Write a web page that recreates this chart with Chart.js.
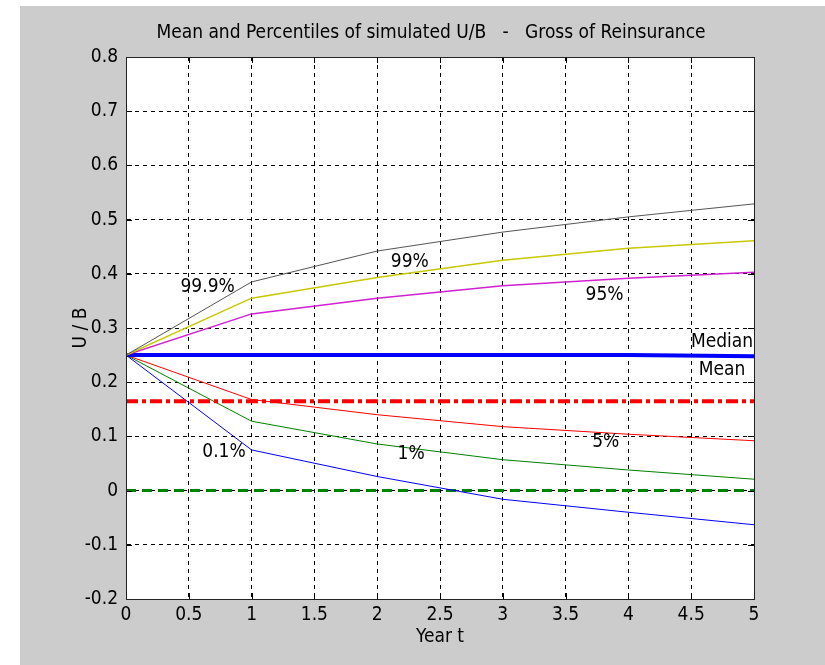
<!DOCTYPE html>
<html>
<head>
<meta charset="utf-8">
<script src="https://cdn.jsdelivr.net/npm/chart.js@4/dist/chart.umd.min.js"></script>
<style>
  body { margin: 0; background: #ffffff; }
  #wrap { width: 825px; height: 665px; }
</style>
</head>
<body>
<div id="wrap"><canvas id="ubChart" width="825" height="665"></canvas></div>
<script>
// Años simulados
const years = [0, 1, 2, 3, 4, 5];

// Percentiles y medias de U/B
const p999 = [0.25, 0.385, 0.442, 0.477, 0.505, 0.529];
const p99 = [0.25, 0.355, 0.393, 0.425, 0.447, 0.461];
const p95 = [0.25, 0.326, 0.355, 0.378, 0.392, 0.403];
const median = [0.25, 0.25, 0.25, 0.25, 0.25, 0.248];
const mean = [0.165, 0.165, 0.165, 0.165, 0.165, 0.165];
const p5 = [0.25, 0.168, 0.140, 0.118, 0.104, 0.092];
const p1 = [0.25, 0.128, 0.086, 0.057, 0.038, 0.021];
const p01 = [0.25, 0.075, 0.026, -0.016, -0.040, -0.063];
const zeroLine = [0, 0, 0, 0, 0, 0];

// Etiquetas sobre las curvas (texto, año, valor)
const curveLabels = [
    { text: "99.9%", x: 0.65, y: 0.376 },
    { text: "99%", x: 2.26, y: 0.422 },
    { text: "95%", x: 3.81, y: 0.361 },
    { text: "Median", x: 4.745, y: 0.274 },
    { text: "Mean", x: 4.745, y: 0.222 },
    { text: "5%", x: 3.82, y: 0.090 },
    { text: "1%", x: 2.27, y: 0.068 },
    { text: "0.1%", x: 0.78, y: 0.071 },
];

const chartTitle = "Mean and Percentiles of simulated U/B   -   Gross of Reinsurance";
const fontFamily = "'Liberation Sans Narrow', 'DejaVu Sans Condensed', 'Liberation Sans', Arial, sans-serif";
const fontSize = 19;

const toPoints = vals => years.map((x, i) => ({ x: x, y: vals[i] }));

const line = (label, vals, color, width, dash) => ({
    label: label,
    data: toPoints(vals),
    borderColor: color,
    borderWidth: width,
    borderDash: dash || [],
    pointRadius: 0,
    tension: 0,
    fill: false,
});

// Fondo gris estilo MATLAB, marco, marcas interiores y textos
const matlabLook = {
    id: "matlabLook",
    beforeDraw(chart) {
        const { ctx, chartArea: a } = chart;
        ctx.save();
        ctx.fillStyle = "#ffffff";
        ctx.fillRect(0, 0, chart.width, chart.height);
        ctx.fillStyle = "#cccccc";
        ctx.fillRect(20, 6, chart.width - 20, chart.height - 6);
        ctx.fillStyle = "#ffffff";
        ctx.fillRect(a.left, a.top, a.right - a.left, a.bottom - a.top);
        ctx.restore();
    },
    afterDraw(chart) {
        const { ctx, chartArea: a, scales } = chart;
        ctx.save();
        ctx.strokeStyle = "#000000";
        ctx.lineWidth = 1;
        ctx.setLineDash([]);
        ctx.beginPath();
        scales.x.ticks.forEach(t => {
            const px = Math.round(scales.x.getPixelForValue(t.value)) + 0.5;
            ctx.moveTo(px, a.bottom); ctx.lineTo(px, a.bottom - 6);
            ctx.moveTo(px, a.top); ctx.lineTo(px, a.top + 6);
        });
        scales.y.ticks.forEach(t => {
            const py = Math.round(scales.y.getPixelForValue(t.value)) + 0.5;
            ctx.moveTo(a.left, py); ctx.lineTo(a.left + 6, py);
            ctx.moveTo(a.right, py); ctx.lineTo(a.right - 6, py);
        });
        ctx.stroke();
        ctx.strokeStyle = "#222222";
        ctx.strokeRect(Math.round(a.left) + 0.5, Math.round(a.top) + 0.5,
            Math.round(a.right - a.left), Math.round(a.bottom - a.top));

        ctx.fillStyle = "#000000";
        ctx.font = fontSize + "px " + fontFamily;
        ctx.textAlign = "center";
        ctx.textBaseline = "middle";
        curveLabels.forEach(l => {
            ctx.fillText(l.text, scales.x.getPixelForValue(l.x), scales.y.getPixelForValue(l.y));
        });
        ctx.fillText(chartTitle, 431, 33);
        ctx.restore();
    },
};

const ctx = document.getElementById("ubChart").getContext("2d");
const ubChart = new Chart(ctx, {
    type: "line",
    data: {
        datasets: [
            line("99.9%", p999, "#555555", 1),
            line("99%", p99, "#c8c800", 1.5),
            line("95%", p95, "#d020d0", 1.5),
            line("Median", median, "#0000ff", 4),
            line("Mean", mean, "#ff0000", 4, [12, 4, 4, 4]),
            line("5%", p5, "#ff0000", 1),
            line("1%", p1, "#008000", 1),
            line("0.1%", p01, "#0000ff", 1),
            line("0", zeroLine, "#008000", 3, [10, 6]),
        ],
    },
    options: {
        responsive: false,
        animation: false,
        layout: { padding: { left: 20, top: 57, right: 71, bottom: 0 } },
        plugins: {
            legend: { display: false },
            title: { display: false },
            tooltip: { enabled: false },
        },
        scales: {
            x: {
                type: "linear",
                min: 0,
                max: 5,
                afterFit: s => { s.height = 66; },
                ticks: {
                    stepSize: 0.5,
                    autoSkip: false,
                    maxRotation: 0,
                    padding: 5,
                    color: "#000000",
                    font: { family: fontFamily, size: fontSize },
                    callback: v => String(v),
                },
                grid: { color: "#000000", drawTicks: false, lineWidth: 1 },
                border: { color: "#222222", dash: [4, 4] },
                title: {
                    display: true,
                    text: "Year t",
                    color: "#000000",
                    font: { family: fontFamily, size: fontSize },
                    padding: { top: 0, bottom: 17 },
                },
            },
            y: {
                type: "linear",
                min: -0.2,
                max: 0.8,
                afterFit: s => { s.width = 106; },
                ticks: {
                    stepSize: 0.1,
                    autoSkip: false,
                    padding: 8,
                    color: "#000000",
                    font: { family: fontFamily, size: fontSize },
                    callback: v => String(Math.round(v * 10) / 10),
                },
                grid: { color: "#000000", drawTicks: false, lineWidth: 1 },
                border: { color: "#222222", dash: [4, 4] },
                title: {
                    display: true,
                    text: "U / B",
                    color: "#000000",
                    font: { family: fontFamily, size: fontSize },
                    padding: { top: 50, bottom: 0 },
                },
            },
        },
    },
    plugins: [matlabLook],
});
</script>
</body>
</html>
